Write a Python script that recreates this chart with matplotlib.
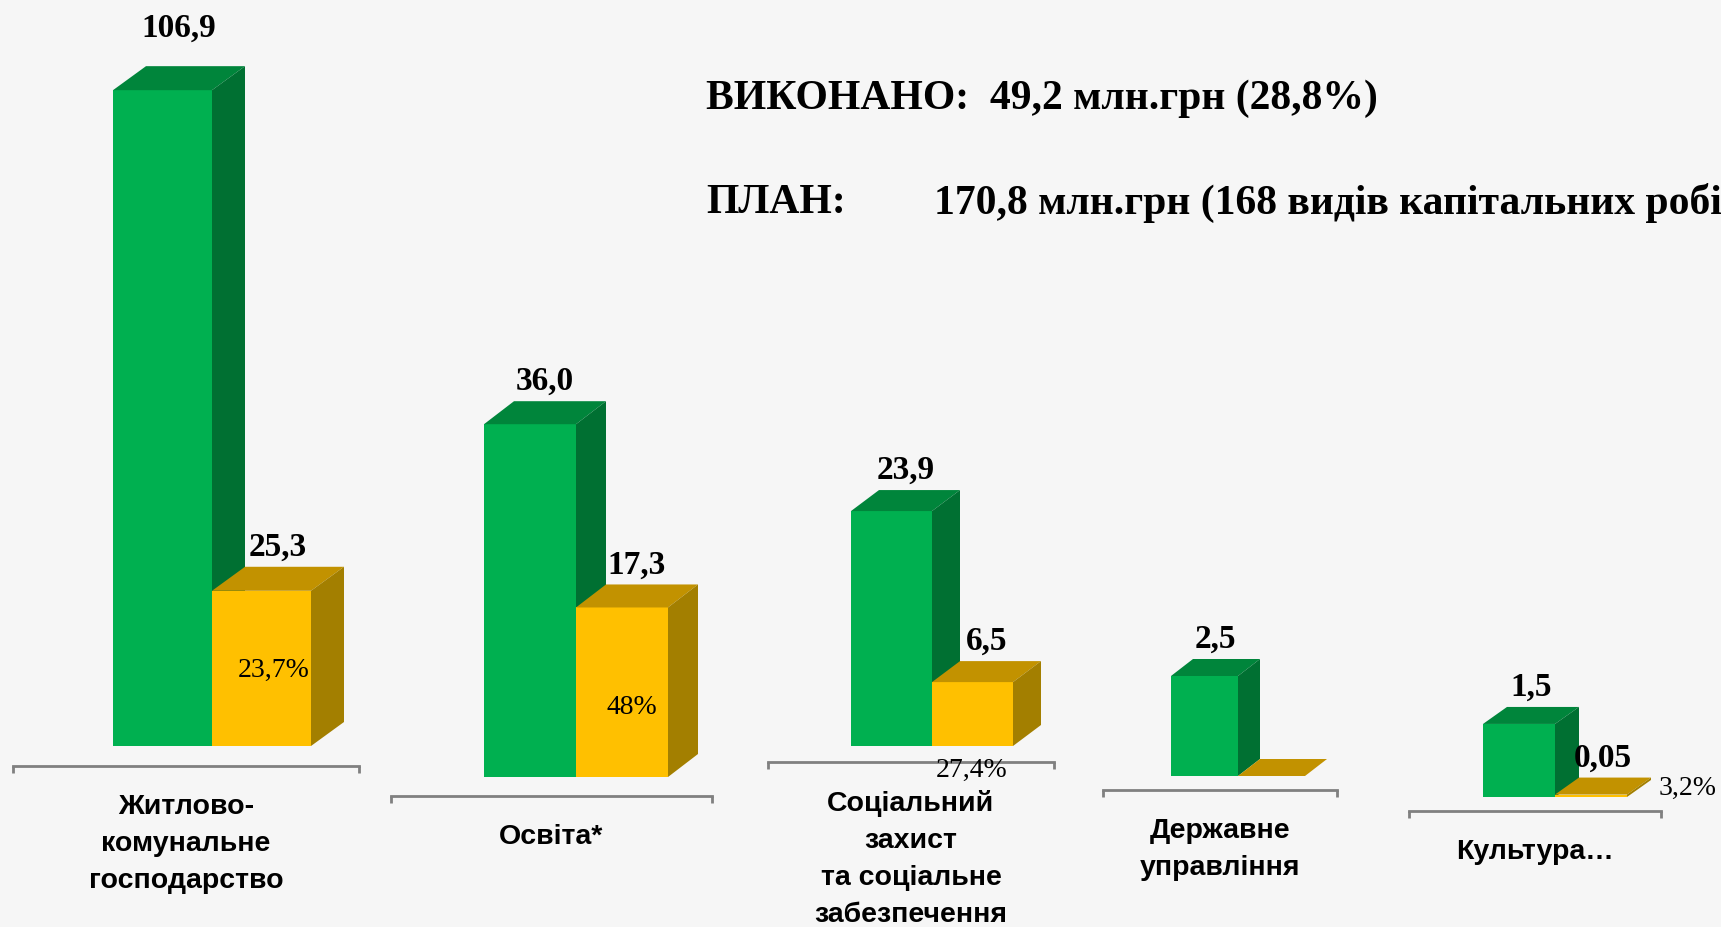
import matplotlib
matplotlib.use('Agg')
import matplotlib.pyplot as plt

# дані
categories = ['Житлово-\nкомунальне\nгосподарство', 'Освіта*',
              'Соціальний\nзахист\nта соціальне\nзабезпечення',
              'Державне\nуправління', 'Культура…']
plan = [106.9, 36.0, 23.9, 2.5, 1.5]
done = [25.3, 17.3, 6.5, 0.0, 0.05]
plan_labels = ['106,9', '36,0', '23,9', '2,5', '1,5']
done_labels = ['25,3', '17,3', '6,5', '', '0,05']
pct_labels = ['23,7%', '48%', '27,4%', '', '3,2%']

W, H = 1721, 927

# розміщення кожної групи в пікселях: межі осі, база, пікселів на одиницю,
# лівий край зеленого стовпця, ширина, глибина, положення лінії осі
span = [(13, 359), (391, 712), (768, 1054), (1103, 1337), (1409, 1661)]
base = [746, 777, 746, 776, 797]
scale = [6.135, 9.8, 9.83, 40, 48.7]
gx = [113, 484, 851, 1171, 1483]
bw = [99, 92, 81, 67, 72]
depth = [(33, 24), (30, 23), (28, 21), (22, 17), (24, 17)]
axis_y = [766, 796, 762, 790, 811]
pct_off = [(12, 76), (10, 69), (-1, -24), (0, 0), (97, 9)]
label_pad = [16, 3, 3, 3, 3]

green = ('#00B050', '#00853B', '#007032')
yellow = ('#FFC000', '#C29200', '#A37F00')
bg = '#f6f6f6'

fig = plt.figure(figsize=(W / 100, H / 100), dpi=100, facecolor=bg)


def box(ax, x0, w, v, dx, dy, cols, z):
    ax.bar(x0, v, width=w, align='edge', color=cols[0], zorder=z, linewidth=0)
    ax.fill([x0, x0 + dx, x0 + w + dx, x0 + w], [v, v + dy, v + dy, v],
            color=cols[1], zorder=z, linewidth=0)
    ax.fill([x0 + w, x0 + w + dx, x0 + w + dx, x0 + w], [0, dy, v + dy, v],
            color=cols[2], zorder=z, linewidth=0)


for i in range(5):
    L, R = span[i]
    s = scale[i]
    ax = fig.add_axes([L / W, 0, (R - L) / W, 1])
    ax.patch.set_visible(False)
    ax.set_xlim(0, R - L)
    ax.set_ylim(-(H - base[i]) / s, base[i] / s)
    dx, dy = depth[i][0], depth[i][1] / s
    x0 = gx[i] - L

    box(ax, x0, bw[i], plan[i], dx, dy, green, 2)
    box(ax, x0 + bw[i], bw[i], done[i], dx, dy, yellow, 3)

    ax.annotate(plan_labels[i], xy=(x0 + bw[i] / 2 + dx / 2, plan[i] + dy),
                xytext=(0, label_pad[i]), textcoords='offset points', ha='center',
                va='bottom', fontsize=24, fontweight='bold', family='Liberation Serif')
    if done_labels[i]:
        ax.annotate(done_labels[i], xy=(x0 + 1.5 * bw[i] + dx / 2, done[i] + dy),
                    xytext=(0, 3), textcoords='offset points', ha='center', va='bottom',
                    fontsize=24, fontweight='bold', family='Liberation Serif')
    if pct_labels[i]:
        ox, oy = pct_off[i]
        ax.annotate(pct_labels[i], xy=(x0 + 1.5 * bw[i], 0),
                    xytext=(ox * 0.72, oy * 0.72), textcoords='offset points',
                    ha='center', va='center', fontsize=20, family='Liberation Serif')

    for side in ['top', 'left', 'right']:
        ax.spines[side].set_visible(False)
    ax.spines['bottom'].set_position(('data', -(axis_y[i] - base[i]) / s))
    ax.spines['bottom'].set_color('#808080')
    ax.spines['bottom'].set_linewidth(2)
    ax.set_yticks([])
    ax.set_xticks([(R - L) / 2])
    ax.set_xticklabels([categories[i]], fontsize=20.5, fontweight='bold',
                       family='Liberation Sans', linespacing=1.55)
    ax.set_xticks([0, R - L], minor=True)
    ax.tick_params(axis='x', which='major', length=0, pad=20)
    ax.tick_params(axis='x', which='minor', length=5, width=2, color='#808080',
                   direction='out')

fig.text(706 / W, 1 - 99 / H, 'ВИКОНАНО:  49,2 млн.грн (28,8%)', ha='left', va='center',
         fontsize=30, fontweight='bold', family='Liberation Serif')
fig.text(706 / W, 1 - 203 / H, 'ПЛАН:', ha='left', va='center',
         fontsize=30, fontweight='bold', family='Liberation Serif')
fig.text(934 / W, 1 - 203 / H, '170,8 млн.грн (168 видів капітальних робіт)', ha='left',
         va='center', fontsize=30, fontweight='bold', family='Liberation Serif')

fig.savefig('out.png', dpi=100, facecolor=bg)
